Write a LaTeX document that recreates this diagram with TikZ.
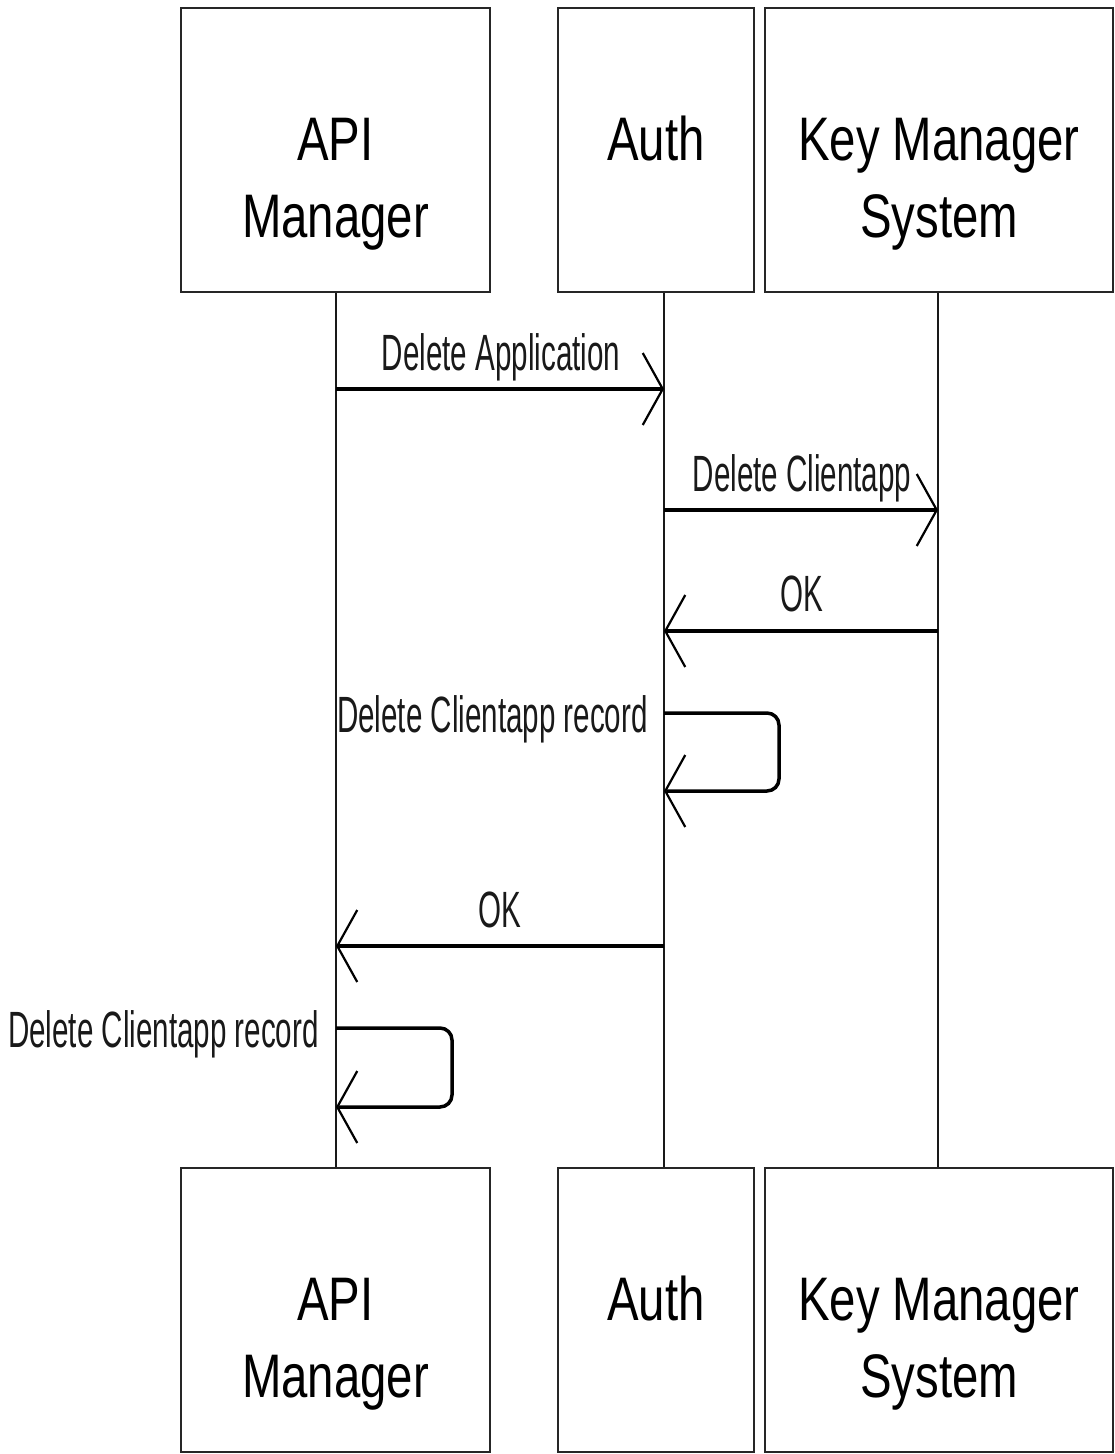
\documentclass[tikz,border=0pt]{standalone}
\usepackage{fontspec}
\setmainfont{Liberation Sans}
\newfontfamily\boxfont{Liberation Sans}[FakeStretch=0.77]
\newfontfamily\labfont{Liberation Sans}[FakeStretch=0.58]
\usetikzlibrary{arrows.meta}
\begin{document}
\begin{tikzpicture}[x=1pt,y=-1pt,
  actor/.style={draw=black!85, line width=2.8pt, fill=white, inner sep=0pt, minimum height=284pt},
  boxtxt/.style={anchor=base, inner sep=0pt, font=\boxfont\fontsize{61.5}{74}\selectfont},
  lbl/.style={inner sep=0pt, text=black!90, font=\labfont\fontsize{51}{60}\selectfont},
  life/.style={line width=2.2pt, black!90},
  msg/.style={line width=3.5pt, black, -{Straight Barb[length=20pt,width=72pt,line width=2.2pt]}},
]
\useasboundingbox (0,0) rectangle (1115,1454);
% actor boxes
\node[actor, minimum width=309pt] (apiT) at (335.5,150) {};
\node[actor, minimum width=196pt] (authT) at (656,150) {};
\node[actor, minimum width=348pt] (kmsT) at (939,150) {};
\node[actor, minimum width=309pt] (apiB) at (335.5,1310) {};
\node[actor, minimum width=196pt] (authB) at (656,1310) {};
\node[actor, minimum width=348pt] (kmsB) at (939,1310) {};
% box texts
\node[boxtxt] (apiT1) at (335.5,160) {API};
\node[boxtxt] (apiT2) at (335.5,237) {Manager};
\node[boxtxt] (authT1) at (656,160) {Auth};
\node[boxtxt] (kmsT1) at (939,160) {Key Manager};
\node[boxtxt] (kmsT2) at (939,237) {System};
\node[boxtxt] (apiB1) at (335.5,1320) {API};
\node[boxtxt] (apiB2) at (335.5,1397) {Manager};
\node[boxtxt] (authB1) at (656,1320) {Auth};
\node[boxtxt] (kmsB1) at (939,1320) {Key Manager};
\node[boxtxt] (kmsB2) at (939,1397) {System};
% lifelines
\coordinate (apiL) at (336,0);
\coordinate (authL) at (664,0);
\coordinate (kmsL) at (938,0);
\draw[life] (apiT.south -| apiL) -- (apiB.north -| apiL);
\draw[life] (authT.south -| authL) -- (authB.north -| authL);
\draw[life] (kmsT.south -| kmsL) -- (kmsB.north -| kmsL);
% message points
\coordinate (m1a) at (336,389);
\coordinate (m1b) at (664,389);
\coordinate (m2a) at (664,510);
\coordinate (m2b) at (938,510);
\coordinate (m3a) at (938,631);
\coordinate (m3b) at (664,631);
\coordinate (s1a) at (664,713);
\coordinate (s1b) at (664,791);
\coordinate (m5a) at (664,946);
\coordinate (m5b) at (336,946);
\coordinate (s2a) at (336,1028);
\coordinate (s2b) at (336,1107);
% messages
\draw[msg] (m1a) -- (m1b);
\node[lbl, anchor=base] (l1) at (501,370) {Delete Application};
\draw[msg] (m2a) -- (m2b);
\node[lbl, anchor=base] (l2) at (802,491) {Delete Clientapp};
\draw[msg] (m3a) -- (m3b);
\node[lbl, anchor=base] (l3) at (802,611) {OK};
\draw[msg, rounded corners=12pt] (s1a) -- (779,713) -- (779,791) -- (s1b);
\node[lbl, anchor=base east] (l4) at (648,732) {Delete Clientapp record};
\draw[msg] (m5a) -- (m5b);
\node[lbl, anchor=base] (l5) at (500,927) {OK};
\draw[msg, rounded corners=12pt] (s2a) -- (452,1028) -- (452,1107) -- (s2b);
\node[lbl, anchor=base east] (l6) at (319,1047) {Delete Clientapp record};
\end{tikzpicture}
\end{document}
